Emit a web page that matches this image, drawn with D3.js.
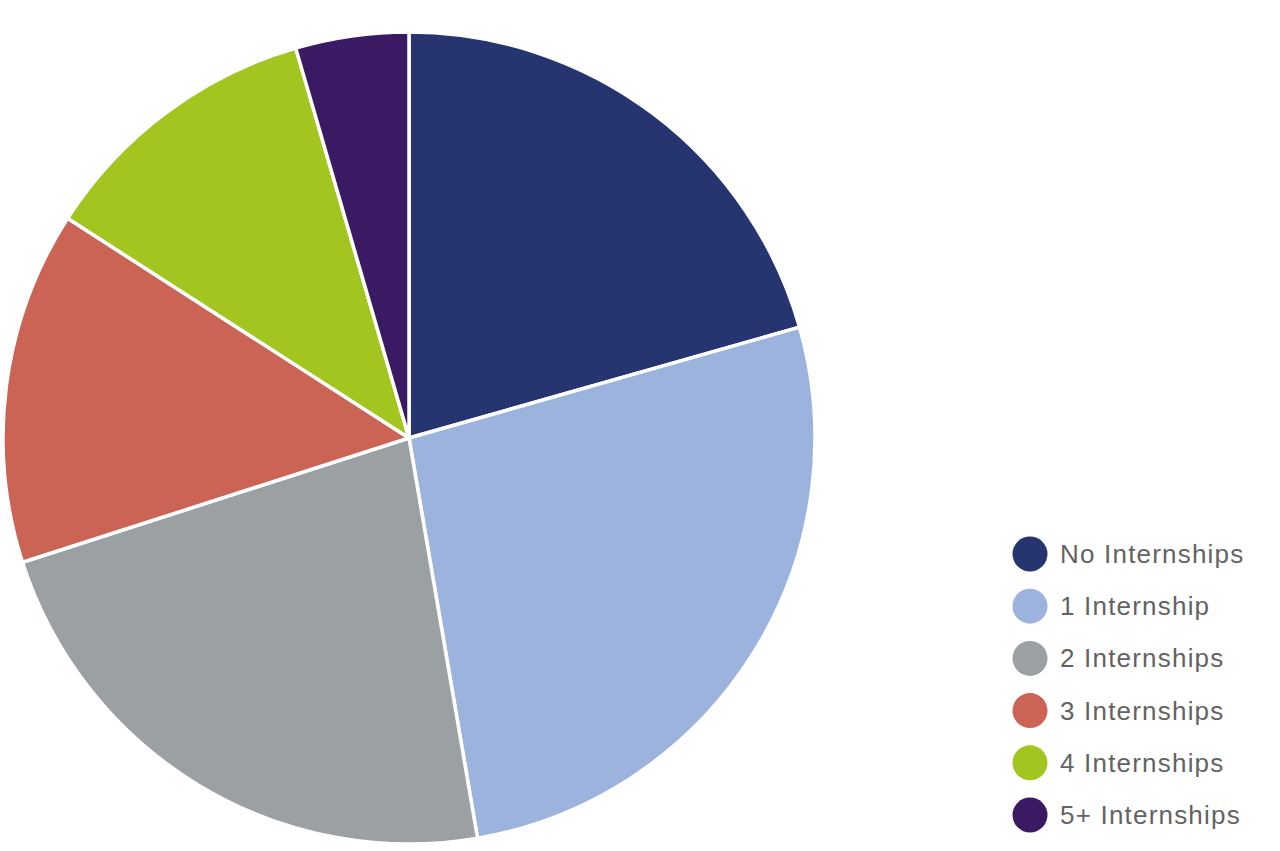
<!DOCTYPE html>
<html>
<head>
<meta charset="utf-8">
<script src="https://cdn.jsdelivr.net/npm/d3@7"></script>
<style>
html, body { margin: 0; padding: 0; background: #ffffff; }
svg { display: block; }
</style>
</head>
<body>
<svg id="chart" width="1280" height="851"></svg>
<script>
const categories = ["No Internships", "1 Internship", "2 Internships", "3 Internships", "4 Internships", "5+ Internships"];
const values = [20.6, 26.7, 22.75, 14.05, 11.4, 4.5];
const colors = ["#26356f", "#9cb3de", "#9ba0a3", "#cc6456", "#a3c520", "#3a1a63"];

const svg = d3.select("#chart");
const cx = 409, cy = 438, radius = 406;

const data = categories.map((c, i) => ({ name: c, value: values[i], color: colors[i] }));

const pie = d3.pie().value(d => d.value).sort(null).startAngle(0).endAngle(2 * Math.PI);
const arc = d3.arc().innerRadius(0).outerRadius(radius);

const g = svg.append("g").attr("transform", `translate(${cx},${cy})`);
g.selectAll("path")
  .data(pie(data))
  .join("path")
  .attr("d", arc)
  .attr("fill", d => d.data.color)
  .attr("stroke", "#ffffff")
  .attr("stroke-width", 3.5)
  .attr("stroke-linejoin", "round");

const color = d3.scaleOrdinal().domain(categories).range(colors);
const legendY = d3.scalePoint().domain(categories).range([554, 815]);

const legend = svg.append("g");
const item = legend.selectAll("g")
  .data(categories)
  .join("g")
  .attr("transform", d => `translate(1030,${legendY(d)})`);
item.append("circle")
  .attr("r", 17.5)
  .attr("fill", d => color(d));
item.append("text")
  .attr("x", 30)
  .attr("y", 9)
  .attr("font-family", "'Liberation Sans', Arial, Helvetica, sans-serif")
  .attr("font-size", 26)
  .attr("letter-spacing", "1.2px")
  .attr("fill", "#636363")
  .text(d => d);
</script>
</body>
</html>
